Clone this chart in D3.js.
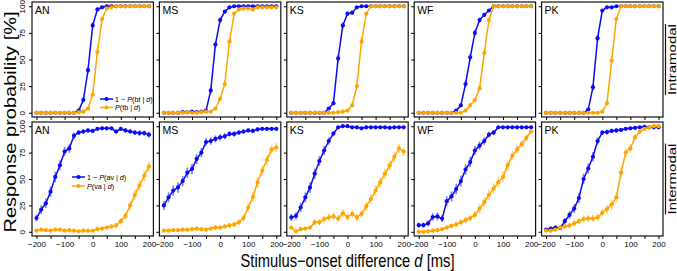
<!DOCTYPE html>
<html>
<head>
<meta charset="utf-8">
<script src="https://cdn.jsdelivr.net/npm/d3@7"></script>
<style>
  body { margin: 0; background: #fff; }
  text { font-family: "Liberation Sans", Arial, sans-serif; }
</style>
</head>
<body>
<svg id="chart" width="677" height="271"></svg>
<script>

// stimulus-onset differences (ms), one frame apart
let onsets = [-200, -183.3, -166.7, -150, -133.3, -116.7, -100, -83.3, -66.7, -50, -33.3, -16.7,
  0, 16.7, 33.3, 50, 66.7, 83.3, 100, 116.7, 133.3, 150, 166.7, 183.3, 200];

let subjects = ["AN", "MS", "KS", "WF", "PK"];
let rowNames = ["Intramodal", "Intermodal"];

// intramodal, 1 - P(bt|d)  (blue)
let intraBlue = [
  [0,0,0,0,0,0,0,0,0,2,12,40,82,97,99,100,100,100,100,100,100,100,100,100,100],
  [0,0,0,0,0.5,0.5,1,0.5,1,2,21,64,87,95,99,100,100,100,100,100,100,100,100,100,100],
  [0,0,0,0,0,0,0,0,4,9,51,82,93,94,99,100,100,100,100,100,100,100,100,100,100],
  [0,0,0,0,0,0,0,0,2,7,27,52,75,87,92,96,100,100,100,100,100,100,100,100,100],
  [0,0,0,0,0,0,0,0,0,3,24,70,96,99,99,100,100,100,100,100,100,100,100,100,100]
];
// intramodal, P(tb|d)  (orange)
let intraOrange = [
  [0,0,0,0,0,0,0,0,0,0.5,1,4,17,57,88,98,99,100,100,100,100,100,100,100,100],
  [0,0,0,0,0,0.5,0,0,0.5,1,1,4,13,27,67,93,97,98,98,97,99,99,99,99,99],
  [0,0,0,0,0,0,0,0,0,0,0.5,1,2,7,25,67,93,100,100,100,100,100,100,100,100],
  [0,0,0,0,0,0,0,0,0,0,2,7,12,23,56,87,100,100,100,100,100,100,100,100,100],
  [0,0,0,0,0,0,0,0,0,0,0,0,1,9,49,88,100,100,100,100,100,100,100,100,100]
];
// intermodal, 1 - P(av|d)  (blue)
let interBlue = [
  [13,21,27,38,52,63,76,79,91,94,95,96,95.5,97.5,98,98,98,95,97.5,96,95,94,93.5,93.5,92],
  [25,32.6,39,42,48,56,59.5,69,75,85,86,88,89.5,90.5,92.7,92.7,94,95,96,95.5,97,97.5,97.5,97.5,97.5],
  [13.6,15,23,32.6,42,55,67,77,86,93,99,100,100,99,99,98,99,99,99,99,99,98.5,99,99,99],
  [6.3,6.3,8,14,14.5,12.5,29,33.5,40.5,48,59,66,77,81.6,86,92,94,99,99,99,99,99,99,99,99],
  [2,3,4,3.5,10,16,22,32,50,60,71,86,94,94.5,95.5,96,96.5,97.5,98,98.5,99,99.5,99,99,99]
];
// intermodal, P(va|d)  (orange)
let interOrange = [
  [1,2,1.5,1,2,2,1,1.5,1,0.5,1,1,1,2.5,3,4,5,6,10,15,25,35,44,53,62],
  [1,1,1.5,1.5,2,2,2.5,3,2.5,2,3,4,4,5,6,7,9,13,23,33,47,58,68,78,80],
  [4,0.5,2.5,3,4,9,9,12,13.6,14.5,12.6,17.5,14,17,13.6,17,24,31,39,47,55,63,71,79,76],
  [0,0,0.5,1,1.5,2.5,4,5.5,7,9,11,13,16,22,28,35,41,47,52,63,72,78,83,89,95],
  [1,1,2,4,5,6,8,10,12,12.6,12.6,13.6,18,21.5,26,32.6,56,75,79,89.5,95,97.5,99,100,100]
];

let trials = [200, 100];  // trials per point, used for the binomial error bars

let xTicks = [-200, -150, -100, -50, 0, 50, 100, 150, 200];
let xTickLabels = [-200, -100, 0, 100, 200];
let yTicks = [0, 25, 50, 75, 100];

let legendTexts = [
  [["1 − ", ""], ["P", "i"], ["(bt | ", ""], ["d", "i"], [")", ""]],
  [["P", "i"], ["(tb | ", ""], ["d", "i"], [")", ""]],
  [["1 − ", ""], ["P", "i"], ["(av | ", ""], ["d", "i"], [")", ""]],
  [["P", "i"], ["(va | ", ""], ["d", "i"], [")", ""]]
];

let blue = "#0b0bf5";
let orange = "#ffa500";


let svg = d3.select("#chart");

let colLeft = 32, colW = 121.4, colGap = 6;
let rowTop = [2, 122], rowH = [115, 114];

let fmt = v => String(v).replace("-", "−");

function drawSeries (g, x, y, vals, color, n) {
  let pts = onsets.map((d, i) => ({d: d, v: vals[i]}));
  let se = p => 100 * Math.sqrt(p.v / 100 * (1 - p.v / 100) / n);
  g.append("g").selectAll("line")
    .data(pts).enter().append("line")
    .attr("x1", p => x(p.d)).attr("x2", p => x(p.d))
    .attr("y1", p => y(p.v + se(p)))
    .attr("y2", p => y(p.v - se(p)))
    .attr("stroke", color).attr("stroke-opacity", 0.55).attr("stroke-width", 1.6);
  g.append("path")
    .datum(pts)
    .attr("d", d3.line().x(p => x(p.d)).y(p => y(p.v)))
    .attr("fill", "none").attr("stroke", color).attr("stroke-width", 1.5);
  g.append("g").selectAll("circle")
    .data(pts).enter().append("circle")
    .attr("cx", p => x(p.d)).attr("cy", p => y(p.v)).attr("r", 2.1)
    .attr("fill", color);
}

let series = [[intraBlue, intraOrange], [interBlue, interOrange]];

for (let r = 0; r < 2; r++) {
  let y = d3.scaleLinear().domain([-4, 104]).range([rowTop[r] + rowH[r], rowTop[r]]);
  for (let c = 0; c < subjects.length; c++) {
    let left = colLeft + c * (colW + colGap);
    let x = d3.scaleLinear().domain([-216, 216]).range([left, left + colW]);
    let g = svg.append("g");

    drawSeries(g, x, y, series[r][0][c], blue, trials[r]);
    drawSeries(g, x, y, series[r][1][c], orange, trials[r]);

    g.append("rect")
      .attr("x", left).attr("y", rowTop[r]).attr("width", colW).attr("height", rowH[r])
      .attr("fill", "none").attr("stroke", "#111").attr("stroke-width", 1.2);

    g.append("text")
      .attr("x", left + 3).attr("y", rowTop[r] + 12)
      .attr("font-size", 10.5).text(subjects[c]);

    // axes
    let xa = g.append("g")
      .attr("transform", `translate(0,${rowTop[r] + rowH[r]})`)
      .call(d3.axisBottom(x).tickValues(xTicks).tickSize(3).tickSizeOuter(0)
        .tickFormat(v => (r === 1 && xTickLabels.includes(v)) ? fmt(v) : ""));
    xa.select(".domain").remove();
    xa.selectAll("text").attr("font-size", 8).attr("dy", "0.6em")
      .attr("font-family", "Liberation Sans, Arial, sans-serif");

    let ya = g.append("g")
      .attr("transform", `translate(${left},0)`)
      .call(d3.axisLeft(y).tickValues(yTicks).tickSize(3)
        .tickFormat(v => c === 0 ? v : ""));
    ya.select(".domain").remove();
    ya.selectAll("text").attr("font-size", 8)
      .attr("font-family", "Liberation Sans, Arial, sans-serif")
      .attr("text-anchor", "middle")
      .attr("x", 0).attr("dy", 0)
      .attr("transform", "translate(-7,0) rotate(-90)");
  }
}

// legends
let legendPos = [[100, 99], [100, 107.5], [72, 177], [72, 186]];
let legendCols = [blue, orange, blue, orange];
legendPos.forEach((p, i) => {
  let lg = svg.append("g").attr("transform", `translate(${p[0]},${p[1]})`);
  lg.append("line").attr("x1", 0).attr("x2", 13).attr("y1", 0).attr("y2", 0)
    .attr("stroke", legendCols[i]).attr("stroke-width", 1.5);
  lg.append("circle").attr("cx", 6.5).attr("cy", 0).attr("r", 2.1).attr("fill", legendCols[i]);
  let t = lg.append("text").attr("x", 15).attr("y", 2.6).attr("font-size", 7.2);
  legendTexts[i].forEach(s => {
    t.append("tspan").attr("font-style", s[1] === "i" ? "italic" : "normal").text(s[0]);
  });
});

// strip labels on the right
rowNames.forEach((name, r) => {
  let cy = rowTop[r] + rowH[r] / 2;
  let t = svg.append("text")
    .attr("transform", `translate(675.5,${cy}) scale(0.75,1) rotate(-90)`)
    .attr("text-anchor", "middle").attr("font-size", 15).text(name);
  let len = t.node().getComputedTextLength();
  svg.append("line")
    .attr("x1", 665.5).attr("x2", 665.5).attr("y1", cy - len / 2).attr("y2", cy + len / 2)
    .attr("stroke", "#111").attr("stroke-width", 1.2);
});

// axis titles
svg.append("text")
  .attr("transform", "translate(16,122) scale(0.85,1) rotate(-90)")
  .attr("text-anchor", "middle").attr("font-size", 20)
  .text("Response probability [%]");

let xt = svg.append("text")
  .attr("transform", "translate(347.5,267) scale(0.82,1)")
  .attr("text-anchor", "middle").attr("font-size", 18);
xt.append("tspan").text("Stimulus−onset difference ");
xt.append("tspan").attr("font-style", "italic").text("d");
xt.append("tspan").text(" [ms]");

</script>
</body>
</html>
